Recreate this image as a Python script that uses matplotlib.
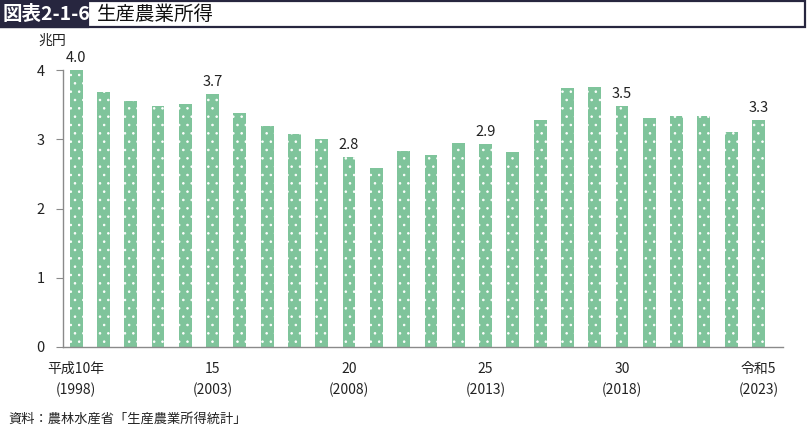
import matplotlib
matplotlib.use("Agg")
import matplotlib.pyplot as plt
from matplotlib.patches import Rectangle
from matplotlib.transforms import blended_transform_factory

plt.rcParams['font.family'] = ['Noto Sans CJK JP', 'DejaVu Sans']
plt.rcParams['hatch.linewidth'] = 0.6

years = list(range(1998, 2024))
values = [4.00, 3.68, 3.55, 3.48, 3.51, 3.65, 3.38, 3.19, 3.07, 3.01,
          2.75, 2.59, 2.83, 2.77, 2.95, 2.93, 2.82, 3.28, 3.74, 3.75,
          3.48, 3.31, 3.34, 3.34, 3.10, 3.28]
label_idx = [0, 5, 10, 15, 20, 25]
label_text = ["4.0", "3.7", "2.8", "2.9", "3.5", "3.3"]
xtick_idx = [0, 5, 10, 15, 20, 25]
xtick_era = ["平成10年", "15", "20", "25", "30", "令和5"]
xtick_year = ["(1998)", "(2003)", "(2008)", "(2013)", "(2018)", "(2023)"]
yticks = [0, 1, 2, 3, 4]

W, H = 808, 437
fig = plt.figure(figsize=(W / 100, H / 100), dpi=100)

navy = "#27263f"
green = "#7fc49b"
gray = "#8a8a8a"
txt = "#222222"

# title frame
fig.patches.append(Rectangle((1 / W, 1 - 27 / H), 804 / W, 26 / H, transform=fig.transFigure,
                             facecolor="white", edgecolor=navy, linewidth=1.6))
fig.patches.append(Rectangle((1 / W, 1 - 27 / H), 87 / W, 26 / H, transform=fig.transFigure,
                             facecolor=navy, edgecolor=navy, linewidth=1.6))
fig.text(3 / W, 1 - 14 / H, "図表2-1-6", color="white", fontsize=14, fontweight="bold",
         va="center", ha="left")
fig.text(97 / W, 1 - 14 / H, "生産農業所得", color="#111111", fontsize=14,
         va="center", ha="left")

ax = fig.add_axes([63 / W, (H - 347) / H, 720 / W, 277 / H])
x = list(range(len(values)))
ax.bar(x, values, width=0.47, color=green, edgecolor="white", linewidth=0, hatch="..")
ax.set_xlim(-0.48, 25.9)
ax.set_ylim(0, 4)

for i, t in zip(label_idx, label_text):
    ax.text(i, values[i] + 0.07, t, ha="center", va="bottom", fontsize=10.5,
            color=txt, clip_on=False)

ax.spines['top'].set_visible(False)
ax.spines['right'].set_visible(False)
ax.spines['left'].set_color(gray)
ax.spines['bottom'].set_color(gray)
ax.spines['left'].set_linewidth(1)
ax.spines['bottom'].set_linewidth(1)
ax.set_yticks(yticks)
ax.set_yticklabels([str(v) for v in yticks], fontsize=10.5, color=txt)
ax.tick_params(axis='y', length=5, color=gray, pad=8)
ax.set_xticks([])

tr = blended_transform_factory(ax.transData, fig.transFigure)
for i, a, b in zip(xtick_idx, xtick_era, xtick_year):
    ax.text(i, 1 - 369 / H, a, transform=tr, ha="center", va="center",
            fontsize=10, color=txt, clip_on=False)
    ax.text(i, 1 - 390 / H, b, transform=tr, ha="center", va="center",
            fontsize=10, color=txt, clip_on=False)

fig.text(38 / W, 1 - 41 / H, "兆円", fontsize=10, color=txt, ha="left", va="center")
fig.text(8 / W, 1 - 419 / H, "資料：農林水産省「生産農業所得統計」", fontsize=9.5,
         color=txt, ha="left", va="center")

fig.savefig("out.png", dpi=100)
